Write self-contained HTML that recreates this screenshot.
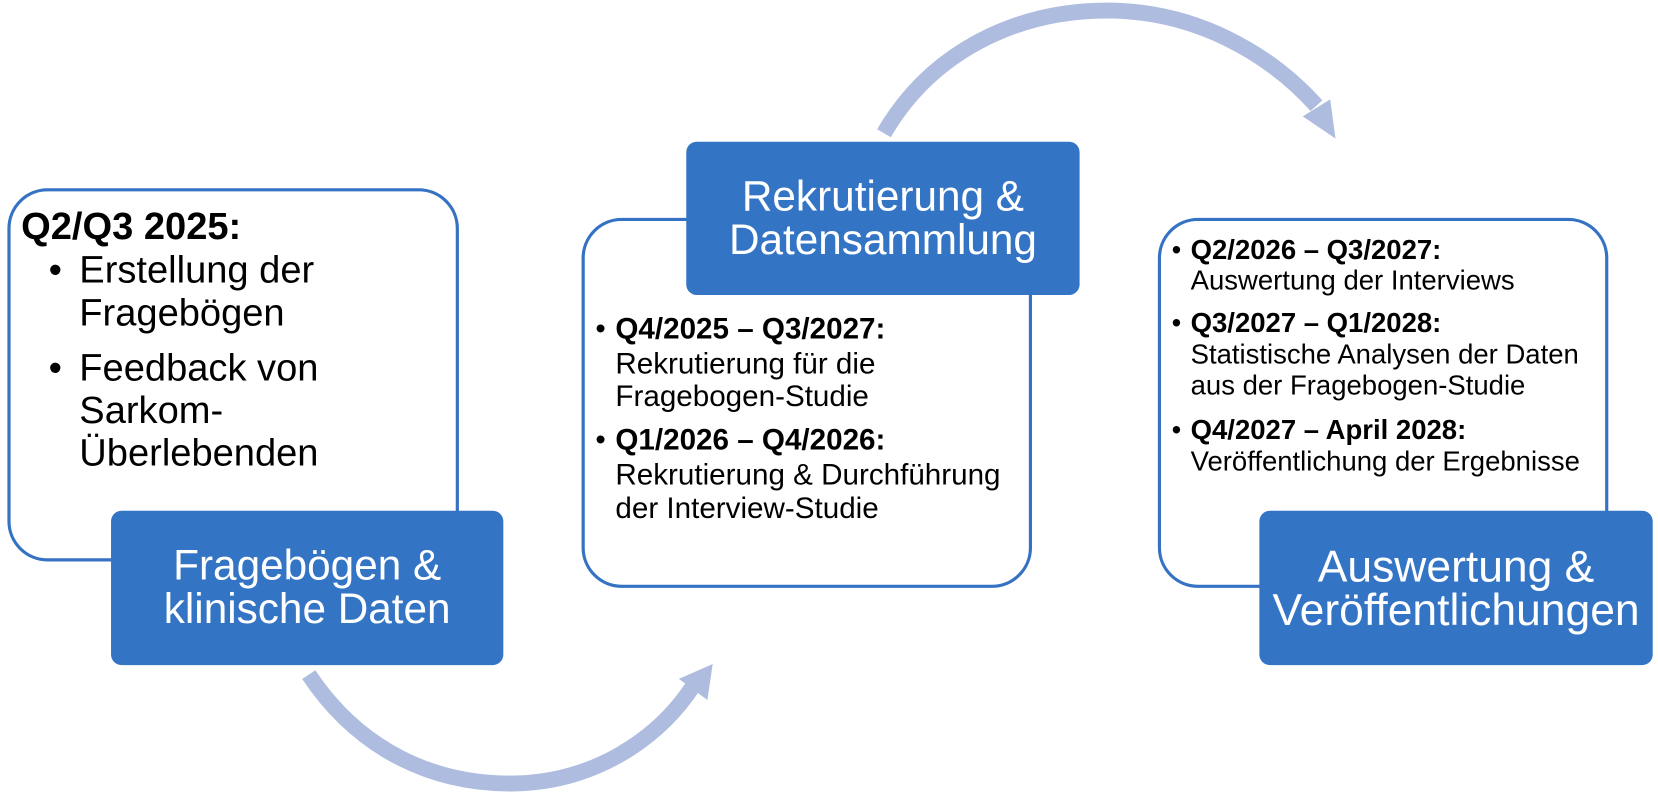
<!DOCTYPE html>
<html><head><meta charset="utf-8"><style>
body{margin:0;width:1658px;height:806px;background:#fff;position:relative;overflow:hidden;font-family:"Liberation Sans",Arial,sans-serif}
#c{position:absolute;left:0;top:0;width:1568px;height:763px;transform:scale(1.0574);transform-origin:0 0}
.o{position:absolute;border:3px solid #3572c3;border-radius:38px;background:#fff;box-sizing:border-box}
.b{position:absolute;background:#3474c4;border-radius:10px;color:#fff;text-align:center;display:flex;flex-direction:column;justify-content:center;line-height:41px;white-space:nowrap}
.l{position:absolute;white-space:nowrap;line-height:1;transform:translateY(-50%)}
.s2{font-size:28px}
.s3{font-size:26px}
.m{font-size:36px}
</style></head><body><div id="c">
<svg width="1568" height="763" style="position:absolute;left:0;top:0">
<path d="M292,638 C340,710 410,741 482,741 C560,741 622,700 656,648" fill="none" stroke="#adbcdf" stroke-width="15"/>
<polygon points="674,628 642,642 669,662" fill="#adbcdf"/>
<path d="M836,126 C880,50 960,10 1047,10 C1130,10 1200,50 1245,100" fill="none" stroke="#adbcdf" stroke-width="15"/>
<polygon points="1263,131 1232,110 1258,94" fill="#adbcdf"/>
</svg>
<div class="o" style="left:7px;top:178px;width:427px;height:353px"></div>
<div class="o" style="left:550px;top:206px;width:426px;height:350px"></div>
<div class="o" style="left:1095px;top:206px;width:426px;height:350px"></div>
<div class="b" style="left:105px;top:483px;width:371px;height:146px;font-size:40px">Fragebögen &amp;<br>klinische Daten</div>
<div class="b" style="left:649px;top:134px;width:372px;height:145px;font-size:40px">Rekrutierung &amp;<br>Datensammlung</div>
<div class="b" style="left:1191px;top:483px;width:372px;height:146px;font-size:42px">Auswertung &amp;<br>Veröffentlichungen</div>

<div class="l m" style="left:20px;top:214px;font-weight:bold">Q2/Q3 2025:</div>
<div class="l m" style="left:46px;top:255px">•</div>
<div class="l m" style="left:75px;top:255px">Erstellung der</div>
<div class="l m" style="left:75px;top:296px">Fragebögen</div>
<div class="l m" style="left:46px;top:348px">•</div>
<div class="l m" style="left:75px;top:348px">Feedback von</div>
<div class="l m" style="left:75px;top:388px">Sarkom-</div>
<div class="l m" style="left:75px;top:428px">Überlebenden</div>

<div class="l s2" style="left:563px;top:311px">•</div>
<div class="l s2" style="left:582px;top:311px;font-weight:bold">Q4/2025 – Q3/2027:</div>
<div class="l s2" style="left:582px;top:344px">Rekrutierung für die</div>
<div class="l s2" style="left:582px;top:375px">Fragebogen-Studie</div>
<div class="l s2" style="left:563px;top:416px">•</div>
<div class="l s2" style="left:582px;top:416px;font-weight:bold">Q1/2026 – Q4/2026:</div>
<div class="l s2" style="left:582px;top:449px">Rekrutierung &amp; Durchführung</div>
<div class="l s2" style="left:582px;top:481px">der Interview-Studie</div>

<div class="l s3" style="left:1108px;top:236px">•</div>
<div class="l s3" style="left:1126px;top:236px;font-weight:bold">Q2/2026 – Q3/2027:</div>
<div class="l s3" style="left:1126px;top:265px">Auswertung der Interviews</div>
<div class="l s3" style="left:1108px;top:305px">•</div>
<div class="l s3" style="left:1126px;top:305px;font-weight:bold">Q3/2027 – Q1/2028:</div>
<div class="l s3" style="left:1126px;top:335px">Statistische Analysen der Daten</div>
<div class="l s3" style="left:1126px;top:364px">aus der Fragebogen-Studie</div>
<div class="l s3" style="left:1108px;top:406px">•</div>
<div class="l s3" style="left:1126px;top:406px;font-weight:bold">Q4/2027 – April 2028:</div>
<div class="l s3" style="left:1126px;top:436px">Veröffentlichung der Ergebnisse</div>
</div></body></html>
